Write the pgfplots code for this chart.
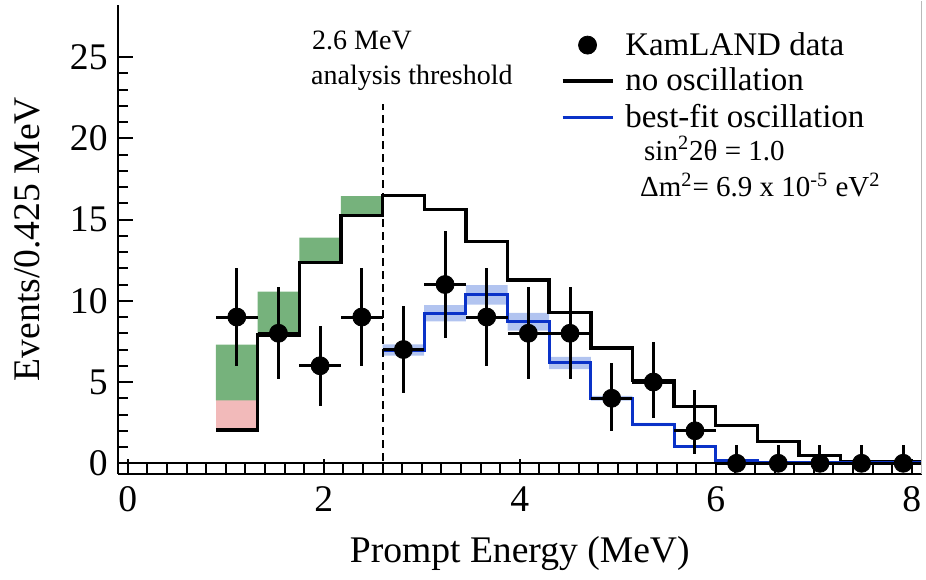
\documentclass[border=0pt]{standalone}
\usepackage{fontspec}
\setmainfont{Liberation Serif}
\usepackage{pgfplots}
\pgfplotsset{compat=1.18}

\definecolor{fitblue}{RGB}{10,50,200}
\definecolor{bandblue}{RGB}{178,196,240}
\definecolor{geogreen}{RGB}{118,178,124}
\definecolor{geopink}{RGB}{242,186,186}

\begin{document}
\begin{tikzpicture}
\begin{axis}[
  name=ax, at={(0,0)}, anchor=south west,
  scale only axis, width=401.8pt, height=234.5pt,
  xmin=-0.1, xmax=8.1, ymin=-0.66, ymax=28.2,
  axis lines*=left,
  axis line style={line width=1.2pt},
  tick align=inside,
  xtick={0,2,4,6,8}, minor x tick num=9,
  ytick={0,5,...,25}, minor y tick num=4,
  major tick length=7.5pt, minor tick length=5pt,
  every tick/.style={black, line width=1pt},
  /pgf/number format/assume math mode=true,
  tick label style={font=\fontsize{18.8}{20}\selectfont, inner sep=0pt},
  xticklabel style={anchor=north, yshift=-6pt},
  yticklabel style={anchor=east, xshift=-5pt},
  xlabel={Prompt Energy (MeV)},
  ylabel={Events/0.425 MeV},
  label style={font=\fontsize{18.8}{20}\selectfont},
  xlabel style={at={(rel axis cs:0.5,0)}, anchor=base, yshift=-44pt},
  ylabel style={at={(rel axis cs:-0.1125,0.501)}, anchor=center},
  legend style={draw=none, fill=none, at={(axis cs:4.415,26.8)}, anchor=north west,
    font=\fontsize{16.5}{18}\selectfont, inner sep=0pt, row sep=1pt, column sep=3.5pt},
  legend cell align=left,
  legend image code/.code={\draw[mark repeat=2,mark phase=2,#1]
    plot coordinates {(0pt,0pt)(12.5pt,0pt)(25pt,0pt)};},
]

% geo-neutrino contributions below the analysis threshold
\addplot[draw=none, fill=geopink, forget plot] coordinates
  {(0.9,2.05)(1.325,2.05)(1.325,3.87)(0.9,3.87)} -- cycle;
\addplot[draw=none, fill=geogreen, forget plot] coordinates
  {(0.9,7.3)(1.325,7.3)(1.325,10.57)(1.75,10.57)(1.75,13.88)(2.175,13.88)
   (2.175,16.44)(2.6,16.44)(2.6,15.24)(2.175,15.24)(2.175,12.34)(1.75,12.34)
   (1.75,7.9)(1.325,7.9)(1.325,3.87)(0.9,3.87)} -- cycle;

% uncertainty band of the best-fit spectrum
\addplot[draw=none, fill=bandblue, forget plot] coordinates
  {(2.6,7.32)(3.025,7.32)(3.025,9.73)(3.45,9.73)(3.45,10.96)(3.875,10.96)
   (3.875,9.26)(4.3,9.26)(4.3,6.55)(4.725,6.55)(4.725,4.15)(5.15,4.15)
   (5.15,2.48)(5.575,2.48)(5.575,1.1)(6.0,1.1)
   (6.0,0.98)(5.575,0.98)(5.575,2.28)(5.15,2.28)(5.15,3.85)(4.725,3.85)
   (4.725,5.8)(4.3,5.8)(4.3,8.16)(3.875,8.16)(3.875,9.76)(3.45,9.76)
   (3.45,8.73)(3.025,8.73)(3.025,6.62)(2.6,6.62)} -- cycle;

% zero line
\addplot[black, line width=1.1pt, forget plot] coordinates {(-0.1,0)(8.1,0)};

% expected spectrum without oscillation
\addplot[black, line width=1.7pt, const plot mark left, forget plot] coordinates
  {(0.9,2.05)(1.325,7.9)(1.75,12.34)(2.175,15.24)(2.6,16.47)(3.025,15.63)
   (3.45,13.64)(3.875,11.28)(4.3,9.29)(4.725,7.09)(5.15,5.1)(5.575,3.48)
   (6.0,2.31)(6.425,1.33)(6.85,0.47)(7.275,0.1)(7.7,0.1)(8.125,0.1)};

% best-fit oscillation spectrum
\addplot[fitblue, line width=1.5pt, const plot mark left, forget plot] coordinates
  {(2.6,6.97)(3.025,9.23)(3.45,10.36)(3.875,8.71)(4.3,6.19)(4.725,4.0)
   (5.15,2.38)(5.575,1.04)(6.0,0.2)(6.425,0.05)(6.85,0.05)(7.275,0.05)
   (7.7,0.05)(8.125,0.05)};

% analysis threshold
\addplot[black, line width=1pt, dash pattern=on 4pt off 2.5pt, forget plot]
  coordinates {(2.6,-0.66)(2.6,22.1)};

% KamLAND data
\addplot[black, only marks, mark=*, mark size=4.5pt, forget plot,
  error bars/.cd, x dir=both, y dir=both, x explicit, y explicit,
  error mark=none, error bar style={line width=1.5pt, black}]
  coordinates {
   (1.1125,9) +- (0.2125,3.0)
   (1.5375,8) +- (0.2125,2.83)
   (1.9625,6) +- (0.2125,2.45)
   (2.3875,9) +- (0.2125,3.0)
   (2.8125,7) +- (0.2125,2.65)
   (3.2375,11) +- (0.2125,3.3)
   (3.6625,9) +- (0.2125,3.0)
   (4.0875,8) +- (0.2125,2.83)
   (4.5125,8) +- (0.2125,2.83)
   (4.9375,4) += (0.2125,2.2) -= (0.2125,2.0)
   (5.3625,5) += (0.2125,2.44) -= (0.2125,2.24)
   (5.7875,2) += (0.2125,2.5) -= (0.2125,1.45)
   (6.2125,0) += (0.2125,1.15) -= (0.2125,0)
   (6.6375,0) += (0.2125,1.15) -= (0.2125,0)
   (7.0625,0) += (0.2125,1.15) -= (0.2125,0)
   (7.4875,0) += (0.2125,1.15) -= (0.2125,0)
   (7.9125,0) += (0.2125,1.15) -= (0.2125,0)
  };

\addlegendimage{black, only marks, mark=*, mark size=4.5pt}
\addlegendentry{KamLAND data}
\addlegendimage{black, line width=1.7pt}
\addlegendentry{no oscillation}
\addlegendimage{fitblue, line width=1.5pt}
\addlegendentry{best-fit oscillation}

\node[anchor=base west, inner sep=0pt, font=\fontsize{14}{16}\selectfont]
  at (axis cs:1.878,25.48) {2.6 MeV};
\node[anchor=base west, inner sep=0pt, font=\fontsize{14}{16}\selectfont]
  at (axis cs:1.867,23.28) {analysis threshold};
\node[anchor=base west, inner sep=0pt, font=\fontsize{14.5}{16}\selectfont]
  at (axis cs:5.265,18.66) {sin\textsuperscript{2}2θ = 1.0};
\node[anchor=base west, inner sep=0pt, font=\fontsize{14.5}{16}\selectfont]
  at (axis cs:5.224,16.39) {Δm\textsuperscript{2}= 6.9 x 10\textsuperscript{-5} eV\textsuperscript{2}};
\end{axis}
\draw[gray!55, line width=0.6pt] (ax.south east) -- ([yshift=2pt]ax.north east);
\pgfresetboundingbox
\path[use as bounding box] ([xshift=-59pt,yshift=-52.5pt]ax.south west) rectangle ++(463pt,289.5pt);
\end{tikzpicture}
\end{document}
